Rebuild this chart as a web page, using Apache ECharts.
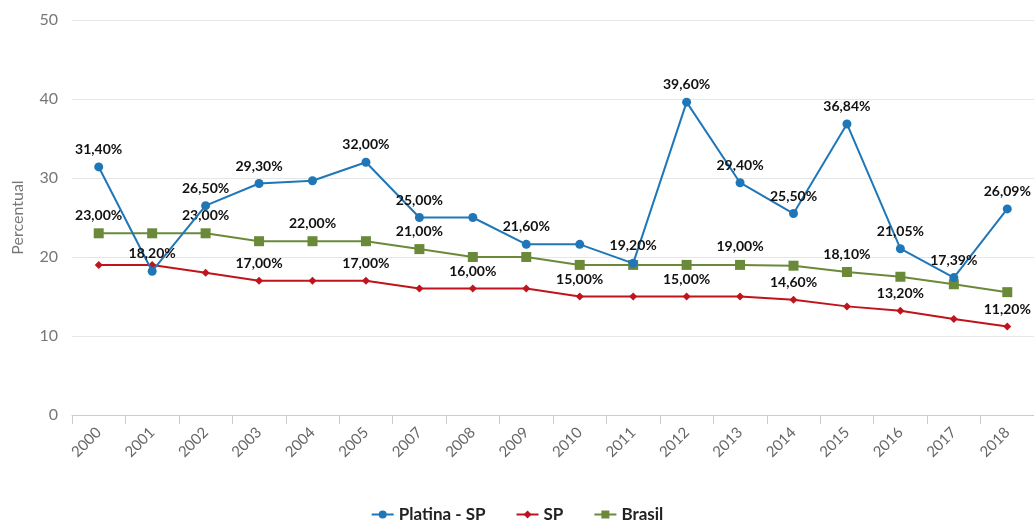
<!DOCTYPE html>
<html><head><meta charset="utf-8">
<script src="https://cdn.jsdelivr.net/npm/echarts@6/dist/echarts.min.js"></script>
<style>html,body{margin:0;padding:0;background:#fff}#c{width:1034px;height:525px}</style>
</head><body><div id="c"></div>
<script>
const years = ['2000','2001','2002','2003','2004','2005','2007','2008','2009','2010','2011','2012','2013','2014','2015','2016','2017','2018'];
const platina = [31.40,18.20,26.50,29.30,29.65,32.00,25.00,25.00,21.60,21.60,19.20,39.60,29.40,25.50,36.84,21.05,17.39,26.09];
const sp = [19.00,19.00,18.00,17.00,17.00,17.00,16.00,16.00,16.00,15.00,15.00,15.00,15.00,14.60,13.75,13.20,12.15,11.20];
const brasil = [23.00,23.00,23.00,22.00,22.00,22.00,21.00,20.00,20.00,19.00,19.00,19.00,19.00,18.90,18.10,17.50,16.55,15.55];
const platinaLabeled = ['2000','2001','2002','2003','2005','2007','2009','2011','2012','2013','2014','2015','2016','2017','2018'];
const spLabeled = ['2003','2005','2008','2010','2012','2014','2016','2018'];
const brasilLabeled = ['2000','2002','2004','2007','2013','2015'];

const fmt = v => v.toFixed(2).replace('.', ',') + '%';
function build(vals, shown) {
  return vals.map((v, i) => ({ value: v, label: { show: shown.includes(years[i]) } }));
}
const lbl = { position: 'top', distance: 6, color: '#111', fontWeight: 'bold', fontSize: 14, fontFamily: 'Lato',
  formatter: p => fmt(p.value) };

const chart = echarts.init(document.getElementById('c'), null, { renderer: 'canvas' });
chart.setOption({
  animation: false,
  backgroundColor: '#fff',
  grid: { left: 72, top: 20, width: 968, bottom: 110, containLabel: false },
  legend: {
    bottom: -3, left: 'center', itemGap: 30, itemWidth: 22, itemHeight: 10,
    textStyle: { color: '#222', fontWeight: 'bold', fontSize: 17, fontFamily: 'Lato' },
    data: ['Platina - SP', 'SP', 'Brasil']
  },
  xAxis: {
    type: 'category', data: years, boundaryGap: true,
    axisLine: { lineStyle: { color: '#cccccc' } },
    axisTick: { show: true, length: 9, lineStyle: { color: '#cccccc' } },
    axisLabel: { rotate: 45, color: '#666', fontSize: 15, fontFamily: 'Lato', margin: 15 }
  },
  yAxis: {
    type: 'value', min: 0, max: 50, interval: 10,
    name: 'Percentual', nameLocation: 'middle', nameGap: 46,
    nameTextStyle: { color: '#777', fontSize: 16, fontFamily: 'Lato' },
    axisLine: { show: false }, axisTick: { show: false },
    axisLabel: { color: '#777', fontSize: 16, fontFamily: 'Lato', margin: 14 },
    splitLine: { lineStyle: { color: '#e6e6e6' } }
  },
  series: [
    { name: 'Platina - SP', type: 'line', data: build(platina, platinaLabeled), symbol: 'circle', symbolSize: 9,
      color: '#1f77b8', lineStyle: { width: 2, color: '#1f77b8' }, label: lbl, z: 3 },
    { name: 'SP', type: 'line', data: build(sp, spLabeled), symbol: 'diamond', symbolSize: 8,
      color: '#c0141c', lineStyle: { width: 2, color: '#c0141c' }, label: lbl, z: 2 },
    { name: 'Brasil', type: 'line', data: build(brasil, brasilLabeled), symbol: 'rect', symbolSize: 10,
      color: '#6a8a3a', lineStyle: { width: 2, color: '#6a8a3a' }, label: lbl, z: 2 }
  ]
});
</script></body></html>
